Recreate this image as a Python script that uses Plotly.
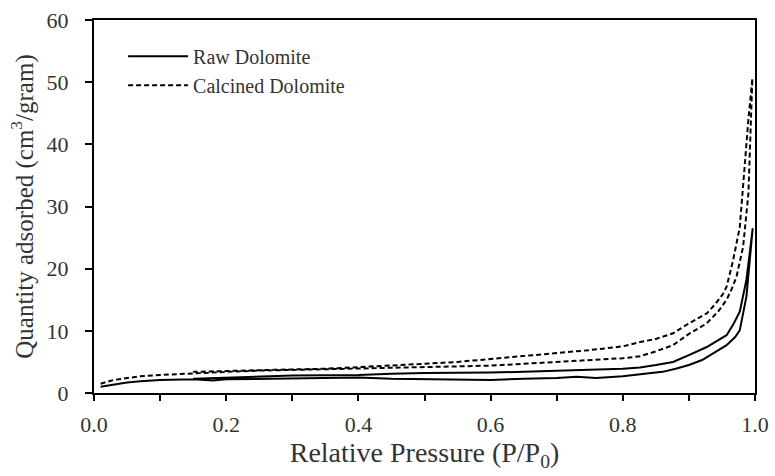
import plotly.graph_objects as go

# Raw Dolomite - adsorption branch (lower solid)
raw_ads_p = [0.01, 0.03, 0.05, 0.07, 0.10, 0.15, 0.18, 0.20, 0.25, 0.30, 0.35, 0.40, 0.45, 0.50,
             0.55, 0.58, 0.60, 0.65, 0.70, 0.73, 0.76, 0.80, 0.83, 0.86, 0.88, 0.90, 0.92, 0.94,
             0.957, 0.97, 0.977, 0.987, 0.992, 0.9965]
raw_ads_q = [1.0, 1.4, 1.7, 1.9, 2.1, 2.2, 2.0, 2.2, 2.3, 2.4, 2.5, 2.5, 2.3, 2.2,
             2.2, 2.1, 2.1, 2.3, 2.4, 2.6, 2.4, 2.7, 3.05, 3.4, 3.9, 4.5, 5.3, 6.6,
             7.7, 9.0, 10.1, 15.5, 21.0, 26.5]
# Raw Dolomite - desorption branch (upper solid)
raw_des_p = [0.9965, 0.992, 0.987, 0.977, 0.967, 0.957, 0.94, 0.927, 0.90, 0.876, 0.85, 0.826,
             0.80, 0.75, 0.70, 0.65, 0.60, 0.55, 0.50, 0.45, 0.40, 0.30, 0.20, 0.15]
raw_des_q = [26.5, 22.5, 18.2, 13.1, 11.0, 9.3, 8.2, 7.4, 6.1, 5.0, 4.5, 4.1,
             3.9, 3.7, 3.6, 3.4, 3.3, 3.3, 3.2, 3.1, 2.9, 2.8, 2.5, 2.3]

# Calcined Dolomite - adsorption branch (lower dashed)
cal_ads_p = [0.01, 0.03, 0.05, 0.07, 0.10, 0.15, 0.20, 0.25, 0.30, 0.35, 0.40, 0.45, 0.50,
             0.55, 0.60, 0.65, 0.70, 0.75, 0.80, 0.826, 0.85, 0.876, 0.90, 0.927, 0.945,
             0.957, 0.965, 0.972, 0.982, 0.99, 0.993, 0.996]
cal_ads_q = [1.5, 2.1, 2.4, 2.7, 2.9, 3.2, 3.4, 3.6, 3.7, 3.8, 3.9, 4.0, 4.1,
             4.2, 4.4, 4.7, 5.0, 5.3, 5.6, 5.9, 6.7, 7.7, 9.5, 11.2, 13.2,
             15.0, 16.8, 18.7, 23.5, 32.0, 40.0, 50.6]
# Calcined Dolomite - desorption branch (upper dashed)
cal_des_p = [0.996, 0.99, 0.985, 0.977, 0.967, 0.957, 0.952, 0.94, 0.927, 0.90, 0.876, 0.85,
             0.826, 0.80, 0.75, 0.70, 0.65, 0.60, 0.55, 0.50, 0.45, 0.40, 0.35, 0.30,
             0.25, 0.20, 0.15]
cal_des_q = [50.6, 44.0, 37.5, 26.7, 21.4, 17.1, 16.0, 14.3, 12.8, 11.2, 9.6, 8.7,
             8.2, 7.5, 6.9, 6.4, 5.9, 5.4, 5.0, 4.7, 4.4, 4.1, 3.9, 3.8,
             3.7, 3.6, 3.4]

FONT = "Liberation Serif"
TXT = "#333333"

fig = go.Figure()
fig.add_trace(go.Scatter(
    x=raw_ads_p + raw_des_p, y=raw_ads_q + raw_des_q, mode="lines",
    name="Raw Dolomite", line=dict(color="black", width=2)))
fig.add_trace(go.Scatter(
    x=cal_ads_p + cal_des_p, y=cal_ads_q + cal_des_q, mode="lines",
    name="Calcined Dolomite", line=dict(color="black", width=2, dash="5px,3px")))

fig.update_layout(
    width=775, height=476,
    margin=dict(l=94, r=20, t=20, b=83, autoexpand=False),
    paper_bgcolor="white", plot_bgcolor="white",
    font=dict(family=FONT, size=22, color=TXT),
    showlegend=True,
    legend=dict(x=0.044, y=0.955, xanchor="left", yanchor="top",
                bgcolor="rgba(0,0,0,0)", font=dict(family=FONT, size=20, color=TXT),
                itemwidth=60, tracegroupgap=0),
)
fig.update_xaxes(
    range=[0, 1.0], dtick=0.2, tick0=0, tickformat=".1f",
    showgrid=False, zeroline=False, automargin=False,
    showline=True, linecolor="black", linewidth=2, mirror=True,
    ticks="outside", ticklen=6, tickwidth=2, tickcolor="black",
    minor=dict(dtick=0.1, ticks="outside", ticklen=6, tickwidth=2, tickcolor="black", showgrid=False),
    tickfont=dict(family=FONT, size=22, color=TXT),
    ticklabelstandoff=5,
    title=dict(text="Relative Pressure (P/P<sub>0</sub>)", font=dict(family=FONT, size=28, color=TXT), standoff=4),
)
fig.update_yaxes(
    range=[0, 60], dtick=10, tick0=0,
    showgrid=False, zeroline=False, automargin=False,
    showline=True, linecolor="black", linewidth=2, mirror=True,
    ticks="outside", ticklen=7, tickwidth=2, tickcolor="black",
    tickfont=dict(family=FONT, size=22, color=TXT),
    ticklabelstandoff=12,
    title=dict(text="Quantity adsorbed (cm<sup>3</sup>/gram)", font=dict(family=FONT, size=25, color=TXT), standoff=6),
)

fig.write_html("out.html")
